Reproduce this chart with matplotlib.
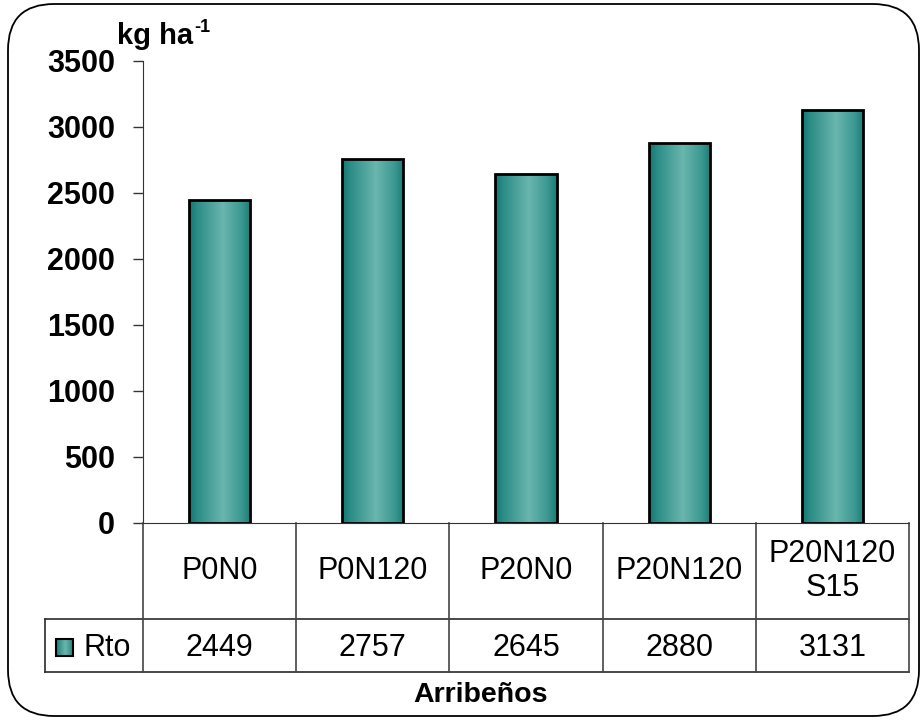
import numpy as np
import matplotlib
matplotlib.use("Agg")
import matplotlib.pyplot as plt
from matplotlib.colors import LinearSegmentedColormap
from matplotlib.patches import FancyBboxPatch, Rectangle
from matplotlib.transforms import blended_transform_factory

categories = ["P0N0", "P0N120", "P20N0", "P20N120", "P20N120\nS15"]
rto = [2449, 2757, 2645, 2880, 3131]
series_name = "Rto"
group_label = "Arribeños"
unit_label = "kg ha"
y_ticks = [0, 500, 1000, 1500, 2000, 2500, 3000, 3500]

plt.rcParams['font.family'] = ['Liberation Sans', 'DejaVu Sans']

W, H = 921, 722
fig = plt.figure(figsize=(W / 100, H / 100), dpi=100)

# rounded outer frame
frame = FancyBboxPatch((8 / W, 6 / H), 911 / W, 712 / H, transform=fig.transFigure,
                       boxstyle="round,pad=0,rounding_size=0.05", facecolor="white",
                       edgecolor="black", linewidth=1.3, mutation_aspect=W / H, zorder=-5)
fig.patches.append(frame)

# plot area in pixels: x 143..909, y 61..523
ax = fig.add_axes([143 / W, 1 - 523 / H, (909 - 143) / W, (523 - 61) / H])
ax.set_facecolor("none")

teal = LinearSegmentedColormap.from_list(
    "teal", [(0.0, "#137570"), (0.12, "#2a8b85"), (0.55, "#6ab6ae"),
             (0.85, "#3b9891"), (1.0, "#1a7c76")])
grad = teal(np.linspace(0, 1, 256))[None, :, :3]

x = np.arange(len(categories))
bars = ax.bar(x, rto, width=0.4, facecolor="none", edgecolor="black",
              linewidth=2, zorder=3)
for b in bars:
    im = ax.imshow(grad, extent=(b.get_x(), b.get_x() + b.get_width(), 0, b.get_height()),
                   aspect="auto", zorder=2, interpolation="bilinear")
    im.set_clip_path(b)

ax.set_xlim(-0.5, len(categories) - 0.5)
ax.set_ylim(0, 3500)
ax.set_yticks(y_ticks)
ax.set_yticklabels([str(t) for t in y_ticks], fontsize=22, fontweight="bold")
ax.tick_params(axis="y", length=7, width=1, pad=13, direction="out", color="#333333")
ax.set_xticks([])
for s in ["top", "right"]:
    ax.spines[s].set_visible(False)
ax.spines["left"].set_color("#333333")
ax.spines["bottom"].set_color("#333333")

# data table under the axis
tr = blended_transform_factory(ax.transData, ax.transAxes)
px = 1 / 462  # axes fraction per pixel
row1 = -96 * px
row2 = -149 * px
leg_x = -0.5 - 98 / 153.2
lc = "#2a2a2a"
ax.plot([leg_x, len(categories) - 0.5], [row1, row1], color=lc, lw=1.2, transform=tr, clip_on=False)
ax.plot([leg_x, len(categories) - 0.5], [row2, row2], color=lc, lw=1.2, transform=tr, clip_on=False)
ax.plot([leg_x, leg_x], [row1, row2], color=lc, lw=1.2, transform=tr, clip_on=False)
for i in range(len(categories) + 1):
    ax.plot([i - 0.5, i - 0.5], [0, row2], color="#444444", lw=1.2, transform=tr, clip_on=False)

for i, (c, v) in enumerate(zip(categories, rto)):
    ax.text(i, row1 / 2, c, transform=tr, ha="center", va="center",
            fontsize=22, linespacing=1.15)
    ax.text(i, (row1 + row2) / 2 - 2 * px, str(v), transform=tr, ha="center",
            va="center", fontsize=22)

# legend key in table
kx0 = leg_x + 11 / 153.2
ky0 = (row1 + row2) / 2 - 10 * px
kw, kh = 17 / 153.2, 17 * px
key = Rectangle((kx0, ky0), kw, kh, transform=tr, facecolor="none",
                edgecolor="black", lw=1.5, clip_on=False, zorder=4)
ax.add_patch(key)
kim = ax.imshow(grad, extent=(kx0, kx0 + kw, ky0, ky0 + kh), aspect="auto", zorder=3,
                interpolation="bilinear", transform=tr)
kim.set_clip_path(key)
ax.text(leg_x + 39 / 153.2, (row1 + row2) / 2 - 2 * px, series_name, transform=tr,
        ha="left", va="center", fontsize=22)

ax.set_xlim(-0.5, len(categories) - 0.5)
ax.set_ylim(0, 3500)

fig.text(481 / W, 1 - 695 / H, group_label, ha="center", va="center",
         fontsize=20.5, fontweight="bold")

t1 = fig.text(117 / W, 1 - 44 / H, unit_label, ha="left", va="baseline",
              fontsize=21, fontweight="bold")
ax.annotate("-1", xy=(1, 1), xycoords=t1, xytext=(1, 2), textcoords="offset points",
            ha="left", va="top", fontsize=13, fontweight="bold")

fig.savefig("out.png", dpi=100)
